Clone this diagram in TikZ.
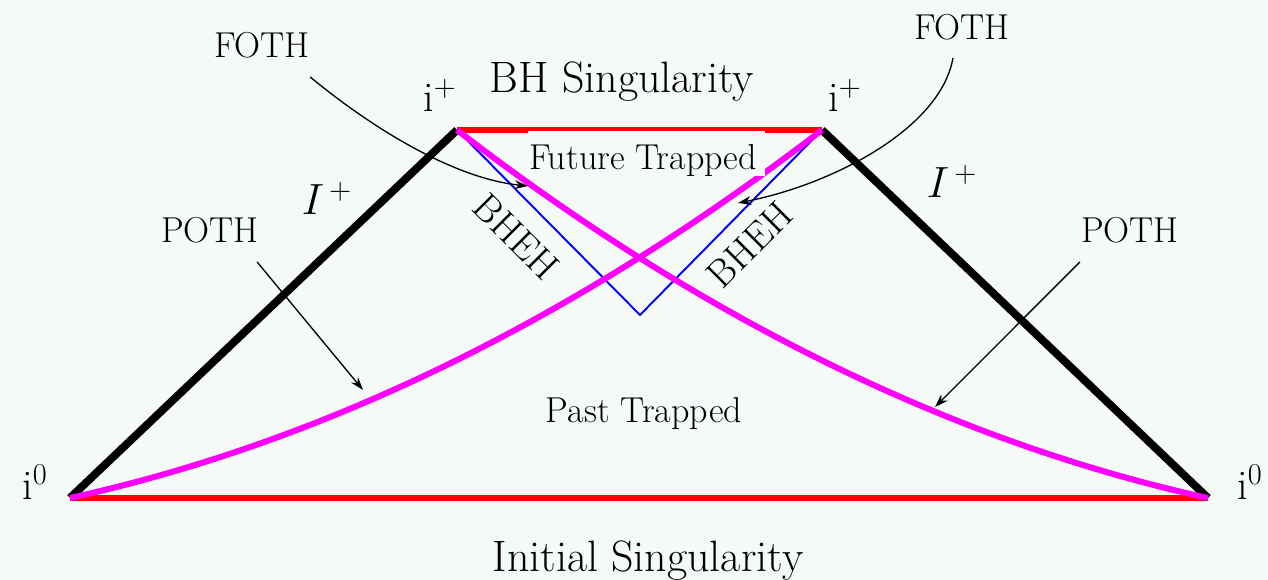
\documentclass[tikz,border=0pt]{standalone}
\usepackage{xcolor}
\usepackage{tikz}
\usetikzlibrary{arrows.meta,positioning,calc}
\definecolor{paperbg}{RGB}{246,250,247}
\definecolor{singred}{RGB}{255,0,0}
\definecolor{horizonblue}{RGB}{0,0,255}
\definecolor{trapmagenta}{RGB}{255,0,255}

\begin{document}
\begin{tikzpicture}[
    x=0.02cm, y=-0.02cm,
    smalltxt/.style={font=\fontsize{20.5}{22}\selectfont, inner sep=0pt, anchor=base},
    bigtxt/.style={font=\fontsize{25}{28}\selectfont, inner sep=0pt, anchor=base},
    marktxt/.style={font=\fontsize{24}{26}\selectfont, inner sep=0pt, anchor=base},
    singular/.style={line width=3.4pt, singred},
    scri/.style={line width=4.5pt, black},
    horizon/.style={line width=1.1pt, horizonblue},
    trapped/.style={line width=3.4pt, trapmagenta},
    pointer/.style={-{Stealth[length=7.5pt,width=5pt]}, line width=0.75pt}
  ]
    \fill[paperbg] (0,0) rectangle (1268,580);
    \useasboundingbox (0,0) rectangle (1268,580);

    % corners of the diagram
    \coordinate (izL) at (70,498);
    \coordinate (izR) at (1208,498);
    \coordinate (ipL) at (457,130);
    \coordinate (ipR) at (822,130);
    \coordinate (bhtip) at (640,315);

    \draw[singular] (izL) -- (izR);
    \draw[singular] (ipL) -- (ipR);
    \draw[scri] (izL) -- (ipL);
    \draw[scri] (ipR) -- (izR);
    \draw[horizon] (ipL) -- (bhtip) -- (ipR);
    \draw[trapped] (izL) .. controls (320,443) and (572,322) .. (ipR);
    \draw[trapped] (ipL) .. controls (706,322) and (958,443) .. (izR);

    % patch under the label
    \fill[paperbg] (528,131) rectangle (765,176);

    \node[bigtxt] (bhsing) at (622,93) {BH Singularity};
    \node[bigtxt] (initsing) at (648,572) {Initial Singularity};
    \node[smalltxt] (futtrap) at (643,170) {Future Trapped};
    \node[smalltxt] (pasttrap) at (644,423) {Past Trapped};
    \node[marktxt] (ipLtxt) at (440,112) {i$^+$};
    \node[marktxt] (ipRtxt) at (845,112) {i$^+$};
    \node[marktxt] (izLtxt) at (35,500) {i$^0$};
    \node[marktxt] (izRtxt) at (1250,500) {i$^0$};
    \node[marktxt, font=\fontsize{23}{26}\selectfont] (scriL) at (327,215) {$I^{\,+}$};
    \node[marktxt, font=\fontsize{23}{26}\selectfont] (scriR) at (952,198) {$I^{\,+}$};
    \node[smalltxt, anchor=center, rotate=-45, font=\fontsize{22}{24}\selectfont] (bhehL) at (516,237) {BHEH};
    \node[smalltxt, anchor=center, rotate=45, font=\fontsize{22}{24}\selectfont] (bhehR) at (750,245) {BHEH};
    \node[smalltxt] (fothL) at (262,58) {FOTH};
    \node[smalltxt] (fothR) at (962,40) {FOTH};
    \node[smalltxt] (pothL) at (210,243) {POTH};
    \node[smalltxt] (pothR) at (1130,243) {POTH};

    % pointers onto the horizons
    \coordinate (fothLend) at (528,186);
    \coordinate (fothRend) at (738,203);
    \coordinate (pothLend) at (363,390);
    \coordinate (pothRend) at (935,407);
    \draw[pointer] ([shift={(0,19)}]fothL.base east) .. controls (378,133) and (458,179) .. (fothLend);
    \draw[pointer] ([shift={(-9,18)}]fothR.base) .. controls (940,130) and (830,185) .. (fothRend);
    \draw[pointer] ([shift={(-2,19)}]pothL.base east) -- (pothLend);
    \draw[pointer] ([shift={(-1,19)}]pothR.base west) -- (pothRend);
  \end{tikzpicture}
\end{document}
